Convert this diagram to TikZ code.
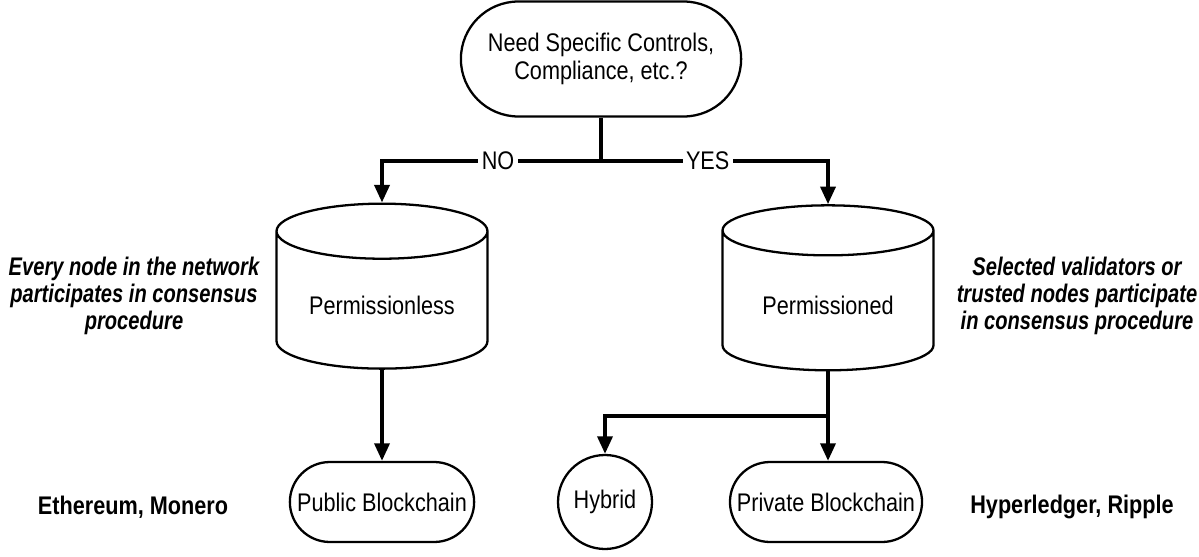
\documentclass[tikz,border=0pt]{standalone}
\usepackage{fontspec}
\setmainfont{Liberation Sans}[FakeStretch=0.85]
\newfontfamily\notefont{Liberation Sans}[FakeStretch=0.79]
\usetikzlibrary{shapes.geometric,shapes.misc,arrows.meta}
\tikzset{
  basefont/.style={font=\fontsize{14.5}{15.5}\selectfont},
  askbox/.style={rounded rectangle,draw,line width=1.3pt,align=center,basefont,minimum width=5.84cm,minimum height=2.3cm},
  chainbox/.style={rounded rectangle,draw,line width=1.3pt,align=center,basefont,minimum height=1.6cm},
  ledger/.style={cylinder,shape border rotate=90,draw,line width=1.3pt,basefont,minimum width=4.22cm,minimum height=3.3cm,shape aspect=0.35},
  hybnode/.style={circle,draw,line width=1.3pt,basefont,minimum size=1.88cm,inner sep=0pt},
  flowarr/.style={-{Triangle[length=10pt,width=8.5pt]},line width=2.1pt},
  flowline/.style={line width=2.1pt},
  branchlbl/.style={fill=white,inner sep=2pt,basefont},
  sidenote/.style={align=center,font=\notefont\fontsize{14.5}{15.2}\selectfont\bfseries\itshape},
  example/.style={font=\fontsize{14.5}{15.5}\selectfont\bfseries}
}
\begin{document}
\begin{tikzpicture}[x=0.02cm,y=-0.02cm]
  \useasboundingbox (0,0) rectangle (1199,557);
  \node[askbox] (ask) at (601,59) {Need Specific Controls,\\Compliance, etc.?};
  \node[ledger] (perml) at (382,305) {Permissionless};
  \node[ledger] (permd) at (828,305) {Permissioned};
  \node[chainbox,minimum width=3.92cm] (pub) at (382,502) {Public Blockchain};
  \node[hybnode] (hyb) at (605,502) {Hybrid};
  \node[chainbox,minimum width=3.74cm] (priv) at (826,502) {Private Blockchain};

  \coordinate (split) at (601,161);
  \coordinate (fork) at (828,416);
  \draw[flowline] (ask.south) -- (split);
  \draw[flowarr] (split) -| node[pos=0.235,branchlbl] {NO} (perml.north);
  \draw[flowarr] (split) -| node[pos=0.235,branchlbl] {YES} (permd.north);
  \draw[flowarr] (perml.south) -- (pub.north);
  \draw[flowarr] (permd.south) -- (priv.north -| fork);
  \draw[flowarr] (fork) -| (hyb.north);

  \node[sidenote] (lnote) at (134,296) {Every node in the network\\participates in consensus\\procedure};
  \node[sidenote] (rnote) at (1077,296) {Selected validators or\\trusted nodes participate\\in consensus procedure};
  \node[example] (lex) at (133,507) {Ethereum, Monero};
  \node[example] (rex) at (1072,507) {Hyperledger, Ripple};
\end{tikzpicture}
\end{document}
